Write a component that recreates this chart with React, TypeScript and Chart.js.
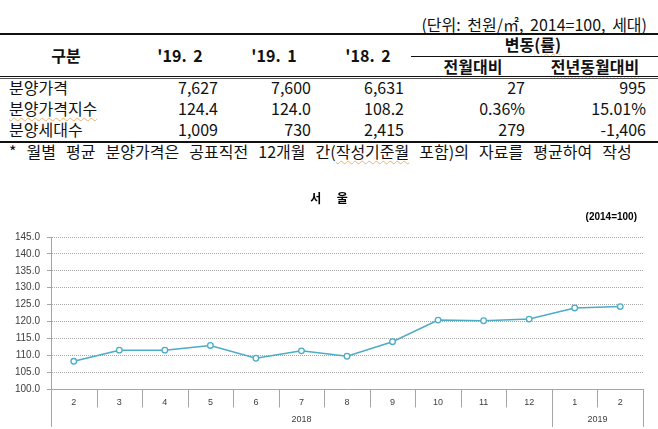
import React, { useEffect, useRef } from "react";
import { Chart, registerables } from "chart.js";

Chart.register(...registerables);

// ---------- table data ----------
const unitText = "(단위: 천원/㎡, 2014=100, 세대)";
const headerLabel = "구분";
const periodHeaders = ["'19. 2", "'19. 1", "'18. 2"];
const changeHeader = "변동(률)";
const changeSubHeaders = ["전월대비", "전년동월대비"];
const rowLabels = ["분양가격", "분양가격지수", "분양세대수"];
const rowPrice = ["7,627", "7,600", "6,631", "27", "995"];
const rowIndex = ["124.4", "124.0", "108.2", "0.36%", "15.01%"];
const rowUnits = ["1,009", "730", "2,415", "279", "-1,406"];
const footnote = "* 월별 평균 분양가격은 공표직전 12개월 간(작성기준월 포함)의 자료를 평균하여 작성";

// ---------- chart data ----------
const chartTitle = "서 울";
const chartSubtitle = "(2014=100)";
const months = ["2", "3", "4", "5", "6", "7", "8", "9", "10", "11", "12", "1", "2"];
const yearLabels = ["2018", "2019"];
const yearCounts = [11, 2];
const indexValues = [108.2, 111.5, 111.5, 112.9, 109.1, 111.3, 109.7, 114.0, 120.4, 120.2, 120.7, 124.0, 124.4];
const yMin = 100;
const yMax = 145;
const yStep = 5;

const W = 658;
const FONT = '"Noto Sans CJK KR", "Noto Sans", sans-serif';
const SQUIGGLE: React.CSSProperties = {
  textDecorationLine: "underline",
  textDecorationStyle: "wavy",
  textDecorationColor: "#f0b070",
  textDecorationThickness: "1px",
  textUnderlineOffset: "2px",
};

type TProps = {
  x: number;
  y: number;
  align?: "left" | "right" | "center";
  bold?: boolean;
  size?: number;
  style?: React.CSSProperties;
  children: React.ReactNode;
};

function T({ x, y, align = "left", bold, size = 16, style, children }: TProps) {
  const base: React.CSSProperties = {
    position: "absolute",
    top: y - 11,
    height: 22,
    lineHeight: "22px",
    fontSize: size,
    fontWeight: bold ? 700 : 400,
    whiteSpace: "nowrap",
    color: "#111",
    fontFamily: FONT,
    ...style,
  };
  if (align === "left") return <div style={{ ...base, left: x }}>{children}</div>;
  if (align === "right") return <div style={{ ...base, right: W - x, textAlign: "right" }}>{children}</div>;
  return <div style={{ ...base, left: x - 150, width: 300, textAlign: "center" }}>{children}</div>;
}

function HLine({ x1, x2, y, h = 1, color = "#111" }: { x1: number; x2: number; y: number; h?: number; color?: string }) {
  return <div style={{ position: "absolute", left: x1, width: x2 - x1, top: y, height: h, background: color }} />;
}

const xAxisPlugin = {
  id: "xAxisGroups",
  afterDraw(chart: any) {
    const ctx = chart.ctx;
    const xs = chart.scales.x;
    const area = chart.chartArea;
    const n = months.length;
    const w = (xs.right - xs.left) / n;
    const bottom = area.bottom;
    const groupBounds = new Set<number>();
    let acc = 0;
    groupBounds.add(0);
    yearCounts.forEach((c) => {
      acc += c;
      groupBounds.add(acc);
    });
    ctx.save();
    ctx.strokeStyle = "#a6a6a6";
    ctx.lineWidth = 1;
    for (let i = 0; i <= n; i++) {
      const px = i < n ? xs.getPixelForValue(i) - w / 2 : xs.getPixelForValue(n - 1) + w / 2;
      const xx = Math.round(px) + 0.5;
      const long = groupBounds.has(i);
      ctx.beginPath();
      ctx.moveTo(xx, bottom);
      ctx.lineTo(xx, bottom + (long ? 38 : 18.5));
      ctx.stroke();
    }
    ctx.fillStyle = "#404040";
    ctx.font = '9px "Liberation Sans", Arial, sans-serif';
    ctx.textAlign = "center";
    ctx.textBaseline = "middle";
    months.forEach((m, i) => {
      ctx.fillText(m, xs.getPixelForValue(i), bottom + 13.5);
    });
    let start = 0;
    yearLabels.forEach((y, gi) => {
      const c = yearCounts[gi];
      const x0 = xs.getPixelForValue(start) - w / 2;
      const x1 = xs.getPixelForValue(start + c - 1) + w / 2;
      ctx.fillText(y, (x0 + x1) / 2, bottom + 31);
      start += c;
    });
    ctx.fillStyle = "#000";
    ctx.font = 'bold 12px "Noto Sans CJK KR", sans-serif';
    const chars = chartTitle.replace(/\s+/g, "").split("");
    const cx = chart.width / 2;
    const gap = 26.5;
    chars.forEach((ch, i) => {
      ctx.fillText(ch, cx + (i - (chars.length - 1) / 2) * gap, 18);
    });
    ctx.font = 'bold 10px "Liberation Sans", Arial, sans-serif';
    ctx.textAlign = "right";
    ctx.fillText(chartSubtitle, area.right - 6, 37);
    ctx.restore();
  },
};

function SeoulChart() {
  const ref = useRef<HTMLCanvasElement>(null);
  useEffect(() => {
    if (!ref.current) return;
    const chart = new Chart(ref.current, {
      type: "line",
      data: {
        labels: months,
        datasets: [
          {
            data: indexValues,
            borderColor: "#4bacc6",
            borderWidth: 1.5,
            pointRadius: 2.8,
            pointBackgroundColor: "#ffffff",
            pointBorderColor: "#4bacc6",
            pointBorderWidth: 1.3,
            tension: 0,
          },
        ],
      },
      options: {
        responsive: false,
        animation: false,
        events: [],
        layout: { padding: { top: 57, right: 15, left: 0, bottom: 0 } },
        plugins: { legend: { display: false }, tooltip: { enabled: false }, title: { display: false } },
        scales: {
          x: {
            type: "category",
            offset: true,
            ticks: { display: false },
            grid: { display: false },
            border: { display: true, color: "#a6a6a6" },
            afterFit: (s: any) => {
              s.height = 40;
            },
          },
          y: {
            min: yMin,
            max: yMax,
            ticks: {
              stepSize: yStep,
              color: "#404040",
              padding: 7,
              font: { family: '"Liberation Sans", Arial, sans-serif', size: 10 },
              callback: (v: any) => Number(v).toFixed(1),
            },
            grid: {
              color: "#a8a8a8",
              lineWidth: 1,
              tickLength: 4,
              tickColor: "#a6a6a6",
              tickBorderDash: [],
            },
            border: { display: true, color: "#a6a6a6", dash: [1, 1] },
            afterFit: (s: any) => {
              s.width = 51;
            },
          },
        },
      },
      plugins: [xAxisPlugin],
    });
    return () => chart.destroy();
  }, []);
  return <canvas ref={ref} width={658} height={249} style={{ width: 658, height: 249, display: "block" }} />;
}

export default function App() {
  const colRight = [218, 311, 404, 525, 646];
  const periodCenter = [180, 274, 368];
  const rowY = [87, 108, 129];
  const rows = [rowPrice, rowIndex, rowUnits];
  return (
    <div style={{ position: "absolute", left: 0, top: 0, width: W, height: 429, background: "#fff", overflow: "hidden", fontFamily: FONT }}>
      <T x={647} y={24} align="right" style={{ wordSpacing: "3px" }}>
        {unitText}
      </T>
      <HLine x1={0} x2={W} y={33} h={2} />
      <T x={66} y={55} align="center" bold>
        {headerLabel}
      </T>
      {periodHeaders.map((h, i) => (
        <T key={h} x={periodCenter[i]} y={55} align="center" bold style={{ wordSpacing: "3px" }}>
          {h}
        </T>
      ))}
      <T x={533} y={44} align="center" bold>
        {changeHeader.slice(0, 2)}
        <span style={SQUIGGLE}>{changeHeader.slice(2)}</span>
      </T>
      <HLine x1={411} x2={W} y={56} h={1} />
      <T x={473} y={66} align="center" bold>
        {changeSubHeaders[0]}
      </T>
      <T x={595} y={66} align="center" bold>
        <span style={SQUIGGLE}>{changeSubHeaders[1]}</span>
      </T>
      <HLine x1={0} x2={W} y={76} h={1} />
      <HLine x1={0} x2={W} y={77.5} h={1.2} color="#555" />
      {rowLabels.map((lab, r) => (
        <React.Fragment key={lab}>
          <T x={9} y={rowY[r]}>
            {r === 1 ? <span style={SQUIGGLE}>{lab}</span> : lab}
          </T>
          {rows[r].map((v, c) => (
            <T key={c} x={colRight[c]} y={rowY[r]} align="right">
              {v}
            </T>
          ))}
        </React.Fragment>
      ))}
      <HLine x1={0} x2={W} y={140.5} h={2} />
      <T x={9} y={151} style={{ wordSpacing: "6.5px" }}>
        {footnote.split("작성기준월")[0]}
        <span style={SQUIGGLE}>작성기준월</span>
        {footnote.split("작성기준월")[1]}
      </T>
      <div style={{ position: "absolute", left: 0, top: 180, width: W, height: 249 }}>
        <SeoulChart />
      </div>
    </div>
  );
}
